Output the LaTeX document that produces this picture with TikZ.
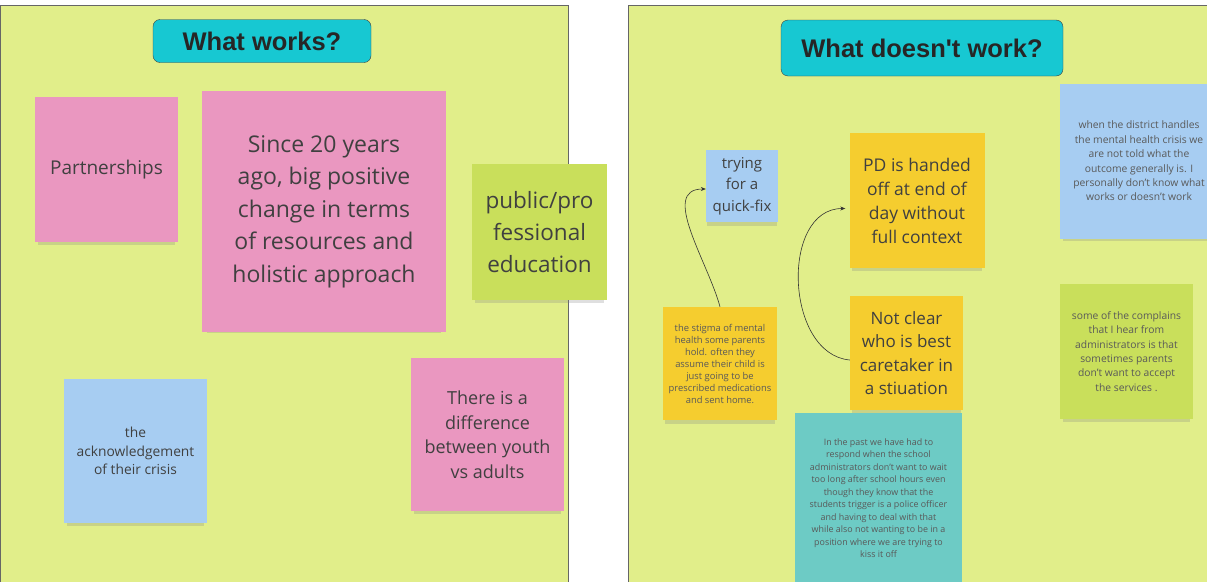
\documentclass[tikz,border=0pt]{standalone}
\usepackage{fontspec}
\setmainfont{Open Sans}
\newfontfamily\titlefont{Liberation Sans}
\usetikzlibrary{positioning, shadows, arrows.meta}
\definecolor{boardgreen}{HTML}{E1EE8A}
\definecolor{headcyan}{HTML}{17C8D2}
\definecolor{notepink}{HTML}{EA97C0}
\definecolor{noteblue}{HTML}{A7CDF2}
\definecolor{notelime}{HTML}{C9DF5B}
\definecolor{noteyellow}{HTML}{F5CD2F}
\definecolor{noteteal}{HTML}{6DCBC5}
\tikzset{
  board/.style={
    draw=gray!80!black,
    fill=boardgreen,
    line width=0.8pt
  },
  heading/.style={
    rectangle,
    rounded corners=7pt,
    draw=black!75,
    fill=headcyan,
    text=black!85,
    font=\titlefont\bfseries\fontsize{25.5}{30}\selectfont
  },
  sticky/.style={
    rectangle,
    align=center,
    text=black!75,
    inner sep=3pt,
    drop shadow={shadow xshift=0pt, shadow yshift=-6pt, shadow scale=0.96, opacity=0.25}
  },
  bignote/.style={sticky, font=\fontsize{22.5}{32}\selectfont},
  midnote/.style={sticky, font=\fontsize{17.5}{24}\selectfont},
  smallnote/.style={sticky, text=black!65, font=\fontsize{10.3}{14.4}\selectfont},
  tinynote/.style={sticky, text=black!65, font=\fontsize{9.4}{12}\selectfont},
  link/.style={
    draw=black!80,
    line width=0.6pt,
    -{Stealth[length=5pt, width=4pt]}
  }
}

\begin{document}
\begin{tikzpicture}[x=1pt, y=-1pt]
  \useasboundingbox (0,0) rectangle (1207,581);

  % --- boards ---
  \draw[board] (0.5,5) rectangle (568,600);
  \draw[board] (628,5) rectangle (1220,600);

  % --- LEFT: WHAT WORKS ---
  \node (worksT) [heading, minimum width=218pt, minimum height=43pt] at (262,41) {What works?};

  \node (partner) [midnote, fill=notepink, minimum width=143pt, minimum height=145pt,
    font=\fontsize{19}{24}\selectfont] at (106.5,169.5) {Partnerships};
  \node (since) [bignote, fill=notepink, minimum width=244pt, minimum height=241pt,
    font=\fontsize{23}{32.5}\selectfont] at (324,211.5)
    {Since 20 years\\ago, big positive\\change in terms\\of resources and\\holistic approach};
  \node (public) [bignote, fill=notelime, minimum width=135pt, minimum height=136pt] at (539.5,232)
    {public/pro\\fessional\\education};
  \node (acknow) [sticky, fill=noteblue, minimum width=143pt, minimum height=144pt,
    font=\fontsize{13.8}{18.5}\selectfont] at (135.5,451) {the\\acknowledgement\\of their crisis};
  \node (differ) [midnote, fill=notepink, minimum width=153pt, minimum height=153pt,
    font=\fontsize{18}{24.5}\selectfont] at (487.5,434.5)
    {There is a\\difference\\between youth\\vs adults};

  % --- RIGHT: WHAT DOESN'T WORK ---
  \node (notT) [heading, minimum width=282pt, minimum height=56pt] at (922,48) {What doesn't work?};

  \node (quick) [sticky, fill=noteblue, minimum width=72pt, minimum height=72pt,
    font=\fontsize{15}{21.5}\selectfont] at (742,186) {trying\\for a\\quick-fix};
  \node (handed) [midnote, fill=noteyellow, minimum width=135pt, minimum height=135pt] at (917,200.5)
    {PD is handed\\off at end of\\day without\\full context};
  \node (district) [smallnote, fill=noteblue, minimum width=158pt, minimum height=155pt] at (1139,161)
    {when the district handles\\the mental health crisis we\\are not told what the\\outcome generally is. I\\personally don't know what\\works or doesn't work};
  \node (stigma) [tinynote, fill=noteyellow, minimum width=114pt, minimum height=113pt] at (720,363.5)
    {the stigma of mental\\health some parents\\hold. often they\\assume their child is\\just going to be\\prescribed medications\\and sent home.};
  \node (notclear) [midnote, fill=noteyellow, minimum width=113pt, minimum height=114pt,
    font=\fontsize{17}{23.5}\selectfont] at (906.5,353)
    {Not clear\\who is best\\caretaker in\\a stiuation};
  \node (complain) [smallnote, fill=notelime, minimum width=133pt, minimum height=135pt] at (1126.5,351.5)
    {some of the complains\\that I hear from\\administrators is that\\sometimes parents\\don't want to accept\\the services .};
  \node (past) [tinynote, fill=noteteal, minimum width=167pt, minimum height=170pt,
    font=\fontsize{8.9}{12.5}\selectfont] at (878.5,498)
    {In the past we have had to\\respond when the school\\administrators don't want to wait\\too long after school hours even\\though they know that the\\students trigger is a police officer\\and having to deal with that\\while also not wanting to be in a\\position where we are trying to\\kiss it off};

  % connectors
  \draw[link] (stigma.north) to[out=105, in=180] ([yshift=-3pt]quick.west);
  \draw[link] ([yshift=-7pt]notclear.west) to[out=175, in=180, looseness=1.1] ([xshift=-4pt, yshift=-8pt]handed.west);

\end{tikzpicture}
\end{document}
